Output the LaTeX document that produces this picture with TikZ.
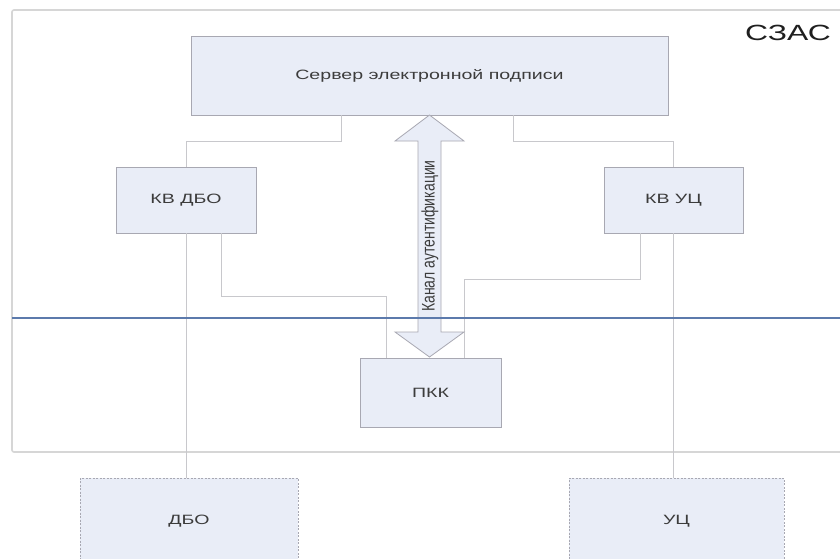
\documentclass[tikz,border=0pt]{standalone}
\usepackage{fontspec}
\setmainfont{Liberation Sans}
\newfontfamily\widefont[FakeStretch=1.45]{Liberation Sans}
\definecolor{boxfill}{RGB}{233,237,247}
\definecolor{boxline}{RGB}{168,168,178}
\definecolor{connline}{RGB}{200,200,204}
\definecolor{frameline}{RGB}{214,214,214}
\definecolor{sepline}{RGB}{92,122,172}
\definecolor{labeltext}{RGB}{60,60,60}
\tikzset{
  blockbox/.style={draw=boxline, fill=boxfill, line width=0.8pt, inner sep=0pt,
    text=labeltext, font=\widefont\fontsize{13.5}{15}\selectfont},
  extbox/.style={blockbox, dashed, dash pattern=on 2pt off 1.5pt},
  conn/.style={draw=connline, line width=0.9pt},
  framebox/.style={draw=frameline, line width=1.6pt, rounded corners=2pt},
  sepstyle/.style={draw=sepline, line width=1.6pt},
  arrowshape/.style={draw=boxline, fill=boxfill, line width=0.8pt, line join=miter}
}
\begin{document}
\begin{tikzpicture}[x=1pt,y=-1pt]
\useasboundingbox (0,0) rectangle (840,558);
\clip (0,0) rectangle (840,558);
\fill[white] (0,0) rectangle (840,558);
% outer frame
\draw[framebox] (12,10) rectangle (860,452);
\node[anchor=center, text=black!88, font=\widefont\fontsize{22}{24}\selectfont] (szas) at (788,33) {СЗАС};
% boxes
\node[blockbox, minimum width=477pt, minimum height=79pt] (server) at (429.5,75.5) {Сервер электронной подписи};
\node[blockbox, minimum width=140pt, minimum height=66pt] (kvdbo) at (186,200) {КВ ДБО};
\node[blockbox, minimum width=139pt, minimum height=66pt] (kvuc) at (673.5,200) {КВ УЦ};
\node[blockbox, minimum width=141pt, minimum height=69pt] (pkk) at (430.5,392.5) {ПКК};
\node[extbox, minimum width=218pt, minimum height=86pt] (dbo) at (189,521) {ДБО};
\node[extbox, minimum width=215pt, minimum height=86pt] (uc) at (676.5,521) {УЦ};
% connectors
\draw[conn] ([xshift=-88.5pt]server.south) -- ++(0,26) -| (kvdbo.north);
\draw[conn] ([xshift=83.5pt]server.south) -- ++(0,26) -| (kvuc.north);
\draw[conn] (kvdbo.south) -- (kvdbo.south |- dbo.north);
\draw[conn] ([xshift=35pt]kvdbo.south) -- ++(0,63) -| ([xshift=-44.5pt]pkk.north);
\draw[conn] ([xshift=-33.5pt]kvuc.south) -- ++(0,46) -| ([xshift=33.5pt]pkk.north);
\draw[conn] (kvuc.south) -- (kvuc.south |- uc.north);
% double arrow (authentication channel)
\draw[arrowshape] (429.5,115) -- (464,141) -- (441,141) -- (441,332) -- (464,332)
  -- (429.5,357) -- (395,332) -- (418,332) -- (418,141) -- (395,141) -- cycle;
\node[rotate=90, text=labeltext, font=\fontsize{14}{16}\selectfont] (chan) at (430,236) {\scalebox{1}[1.3]{Канал аутентификации}};
% separator line
\draw[sepstyle] (12,318) -- (840,318);
\end{tikzpicture}
\end{document}
